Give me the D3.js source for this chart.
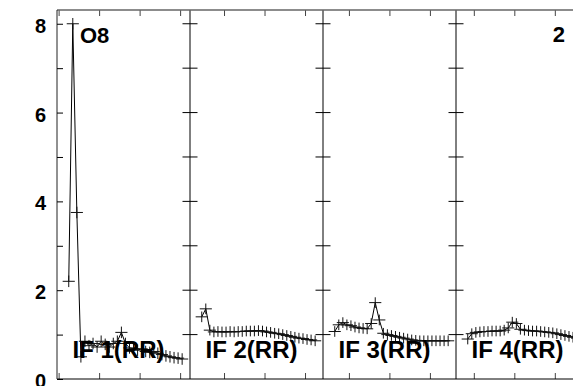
<!DOCTYPE html>
<html>
<head>
<meta charset="utf-8">
<script src="https://cdn.jsdelivr.net/npm/d3@7"></script>
<style>
  body { margin: 0; background: #fff; overflow: hidden; }
  text { font-family: "Liberation Sans", Arial, sans-serif; font-weight: bold; }
</style>
</head>
<body>
<div id="container"></div>
<script>
/* DATA */
const panelLabels = ["IF 1(RR)", "IF 2(RR)", "IF 3(RR)", "IF 4(RR)"];
const sourceName = "O8";
const plotNumber = "2";
// channel index inside each IF (0-based, centre at +0.5)
const channels = [2, 3, 4, 5, 6, 7, 8, 9, 10, 11, 12, 13, 14, 15, 16, 17, 18, 19, 20, 21, 22, 23, 24, 25, 26, 27, 28, 29, 30];
const if1 = [2.2, 8.0, 3.75, 0.5, 0.85, 0.75, 0.8, 0.72, 0.85, 0.78, 0.72, 0.8, 0.85, 1.05, 0.8, 0.7, 0.68, 0.65, 0.68, 0.62, 0.6, 0.62, 0.58, 0.55, 0.52, 0.5, 0.48, 0.47, 0.45];
const if2 = [1.4, 1.58, 1.1, 1.06, 1.07, 1.06, 1.06, 1.07, 1.06, 1.07, 1.07, 1.08, 1.08, 1.08, 1.09, 1.08, 1.06, 1.05, 1.03, 1.02, 1.0, 0.98, 0.96, 0.94, 0.92, 0.91, 0.89, 0.88, 0.86];
const if3 = [1.07, 1.22, 1.27, 1.22, 1.2, 1.17, 1.15, 1.14, 1.13, 1.25, 1.72, 1.33, 1.03, 1.0, 0.98, 0.96, 0.94, 0.92, 0.9, 0.88, 0.87, 0.86, 0.86, 0.86, 0.86, 0.86, 0.86, 0.86, 0.86];
const if4 = [0.9, 1.02, 1.05, 1.06, 1.07, 1.07, 1.08, 1.08, 1.08, 1.1, 1.15, 1.28, 1.25, 1.12, 1.1, 1.09, 1.08, 1.08, 1.07, 1.06, 1.05, 1.04, 1.02, 1.0, 0.98, 0.96, 0.94, 0.92, 0.9];
const errors = [0.13, 0.12, 0.12, 0.12];
const yTickValues = [0, 1, 2, 3, 4, 5, 6, 7, 8];
const yLabelValues = [0, 2, 4, 6, 8];

const series = [if1, if2, if3, if4];

/* LAYOUT */
const W = 573, H = 386;
const plotLeft = 57, plotTop = 10, plotBottom = 379;
const panelW = 133;
const chansPerIF = 32;

const svg = d3.select('#container')
  .append('svg')
  .attr("width", W)
  .attr("height", H);

const yScale = d3.scaleLinear()
  .domain([0, 8.31])
  .range([plotBottom, plotTop]);

series.forEach((vals, p) => {
  const x0 = plotLeft + p * panelW;
  const xScale = d3.scaleLinear()
    .domain([chansPerIF * p - 0.4, chansPerIF * p + 32.44])
    .range([x0, x0 + panelW]);

  const g = svg.append("g");
  const pts = channels.map((c, i) => ({ x: chansPerIF * p + c + 0.5, v: vals[i] }));

  // connecting line
  g.append("path")
    .datum(pts)
    .attr("fill", "none")
    .attr("stroke", "#000")
    .attr("stroke-width", 1)
    .attr("d", d3.line().x(d => xScale(d.x)).y(d => yScale(d.v)));

  // crosses: horizontal = channel spread, vertical = error
  g.selectAll(".hbar")
    .data(pts)
    .enter()
    .append("line")
    .attr("x1", d => xScale(d.x - 1.5))
    .attr("x2", d => xScale(d.x + 1.5))
    .attr("y1", d => yScale(d.v))
    .attr("y2", d => yScale(d.v))
    .attr("stroke", "#111")
    .attr("stroke-width", 1);

  g.selectAll(".vbar")
    .data(pts)
    .enter()
    .append("line")
    .attr("x1", d => xScale(d.x))
    .attr("x2", d => xScale(d.x))
    .attr("y1", d => yScale(d.v - errors[p]))
    .attr("y2", d => yScale(d.v + errors[p]))
    .attr("stroke", "#111")
    .attr("stroke-width", 1);

  // x ticks every 10 channels, top and bottom
  const xt = d3.range(Math.ceil((chansPerIF * p - 0.4) / 10) * 10, chansPerIF * p + 32.44, 10);
  const topAxis = svg.append("g")
    .attr("transform", `translate(0,${plotTop})`)
    .call(d3.axisTop(xScale).tickValues(xt).tickSize(-6).tickFormat(""));
  const botAxis = svg.append("g")
    .attr("transform", `translate(0,${plotBottom})`)
    .call(d3.axisBottom(xScale).tickValues(xt).tickSize(-6).tickFormat(""));
  [topAxis, botAxis].forEach(a => {
    a.select(".domain").remove();
    a.selectAll(".tick line").attr("stroke", "#444");
  });

  // panel divider with crossing ticks
  if (p > 0) {
    svg.append("line")
      .attr("x1", x0).attr("x2", x0)
      .attr("y1", plotTop).attr("y2", plotBottom)
      .attr("stroke", "#000");
    svg.selectAll(null)
      .data(yTickValues.filter(v => v > 0))
      .enter()
      .append("line")
      .attr("x1", x0 - 7.5)
      .attr("x2", x0 + 7.5)
      .attr("y1", d => yScale(d))
      .attr("y2", d => yScale(d))
      .attr("stroke", "#000");
  }
});

// frame
svg.append("line")
  .attr("x1", plotLeft).attr("x2", W)
  .attr("y1", plotTop).attr("y2", plotTop)
  .attr("stroke", "#666").attr("stroke-width", 1.3);
svg.append("line")
  .attr("x1", plotLeft).attr("x2", W)
  .attr("y1", plotBottom).attr("y2", plotBottom)
  .attr("stroke", "#000");
svg.append("line")
  .attr("x1", plotLeft).attr("x2", plotLeft)
  .attr("y1", plotTop).attr("y2", plotBottom)
  .attr("stroke", "#222");

// Y-axis ticks (inside)
const yAxis = svg.append("g")
  .attr("transform", `translate(${plotLeft},0)`)
  .call(d3.axisLeft(yScale).tickValues(yTickValues).tickSize(-6).tickFormat(""));
yAxis.select(".domain").remove();
yAxis.selectAll(".tick line").attr("stroke", "#000");

// Y labels
svg.selectAll(".ylab")
  .data(yLabelValues)
  .enter()
  .append("text")
  .attr("x", 46)
  .attr("y", d => yScale(d))
  .attr("dy", "0.45em")
  .attr("text-anchor", "end")
  .attr("font-size", 20)
  .text(d => d);

// source name and plot number
svg.append("text")
  .attr("x", 80)
  .attr("y", 43)
  .attr("font-size", 22)
  .text(sourceName);

svg.append("text")
  .attr("x", 565)
  .attr("y", 42)
  .attr("text-anchor", "end")
  .attr("font-size", 22)
  .text(plotNumber);

// IF labels
panelLabels.forEach((lab, p) => {
  svg.append("text")
    .attr("x", plotLeft + p * panelW + 15.5)
    .attr("y", 358)
    .attr("font-size", 24)
    .text(lab);
});
</script>
</body>
</html>
